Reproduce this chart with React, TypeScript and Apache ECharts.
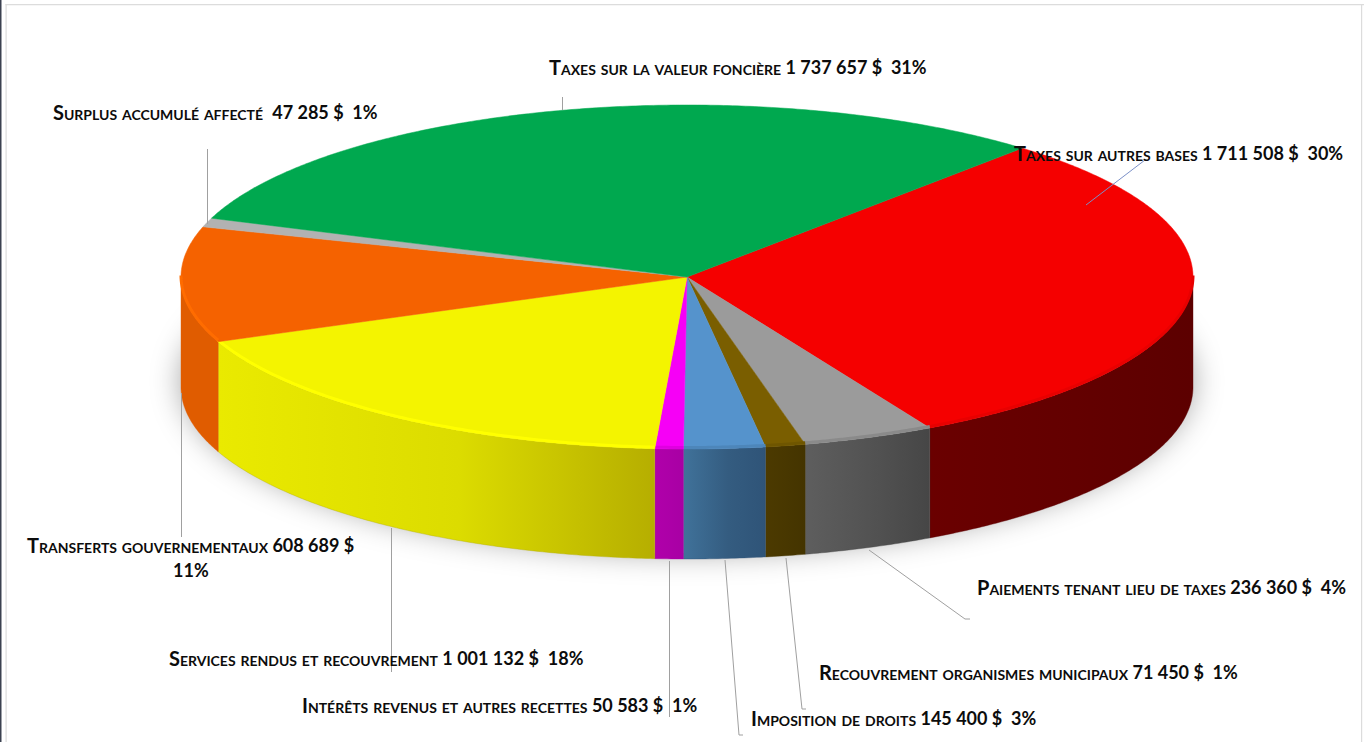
import React, { useEffect, useRef } from "react";
import * as echarts from "echarts";

// Categories and values, in clockwise order from the red slice
const categories = [
  "Taxes sur autres bases",
  "Paiements tenant lieu de taxes",
  "Recouvrement organismes municipaux",
  "Imposition de droits",
  "Intérêts revenus et autres recettes",
  "Services rendus et recouvrement",
  "Transferts gouvernementaux",
  "Surplus accumulé affecté ",
  "Taxes sur la valeur foncière",
];
const values = [1711508, 236360, 71450, 145400, 50583, 1001132, 608689, 47285, 1737657];
const valueLabels = ["1 711 508 $", "236 360 $", "71 450 $", "145 400 $", "50 583 $", "1 001 132 $", "608 689 $", "47 285 $", "1 737 657 $"];
const percents = ["30%", "4%", "1%", "3%", "1%", "18%", "11%", "1%", "31%"];

// Styles
const topColors = ["#f50000", "#9b9b9b", "#7a5e00", "#5593cc", "#f600f6", "#f4f400", "#f56200", "#b2b2b2", "#00a84f"];
const rimColors = ["#e80000", "#8a8a8a", "#6f5600", "#4d86ba", "#e000e0", "#ffff00", "#ff6c00", "#b2b2b2", "#00a84f"];
const sideFrom = ["#6a0000", "#5e5e5e", "#4c3a00", "#40729a", "#b000aa", "#eaea00", "#e05c00", "#888888", "#006030"];
const sideMid = ["#630000", "#525252", "#483700", "#345c80", "#ac00a7", "#dcdc00", "#e05c00", "#888888", "#006030"];
const sideTo = ["#5c0000", "#464646", "#443400", "#2f5478", "#a800a4", "#b6ae00", "#e05c00", "#888888", "#006030"];

// Layout
const CX = 687, CY = 277, RX = 506, RY = 172, DEPTH = 110, START = 41.5;
const labelPos: number[][] = [
  [1014, 153], [977, 587], [819, 672], [751, 718], [302, 705], [169, 658], [27, 545], [53, 112], [549, 67],
];
const leaders: number[][][] = [
  [[1086, 205], [1145, 160]],
  [[869, 550], [965, 619], [970, 619]],
  [[786, 558], [802, 709], [806, 709]],
  [[725, 560], [739, 735], [743, 735]],
  [[669.5, 561], [669.5, 717]],
  [[391.5, 528], [391.5, 672]],
  [[181.5, 393], [181.5, 537]],
  [[207.5, 149], [207.5, 224]],
  [[562.5, 97], [562.5, 110]],
];

const total = values.reduce((a, b) => a + b, 0);
const spans = (() => {
  let cur = START;
  return values.map((v) => {
    const a = cur;
    cur += (v / total) * 360;
    return [a, cur];
  });
})();

const pt = (deg: number, dy = 0): number[] => {
  const t = (deg * Math.PI) / 180;
  return [CX + RX * Math.sin(t), CY - RY * Math.cos(t) + dy];
};
const arc = (a: number, b: number, dy = 0): number[][] => {
  const n = Math.max(2, Math.ceil(Math.abs(b - a) * 2));
  const out: number[][] = [];
  for (let i = 0; i <= n; i++) out.push(pt(a + ((b - a) * i) / n, dy));
  return out;
};

const renderShadow = () => ({
  type: "polygon",
  shape: { points: arc(0, 360, DEPTH - 6) },
  style: { fill: "#ffffff", shadowBlur: 30, shadowColor: "rgba(0,0,0,0.36)", shadowOffsetX: 0, shadowOffsetY: 0 },
  silent: true,
});

const renderSide = (params: any) => {
  const i = params.dataIndex;
  const a = Math.max(spans[i][0], 90);
  const b = Math.min(spans[i][1], 270);
  if (b <= a) return { type: "group", children: [] };
  const top = arc(a, b);
  const bottom = arc(a, b, DEPTH);
  const xs = [top[0][0], top[top.length - 1][0]];
  const fill = {
    type: "linear",
    global: true,
    x: Math.min(...xs),
    y: 0,
    x2: Math.max(...xs),
    y2: 0,
    colorStops: [
      { offset: 0, color: sideFrom[i] },
      { offset: 0.55, color: sideMid[i] },
      { offset: 1, color: sideTo[i] },
    ],
  };
  return {
    type: "group",
    children: [
      {
        type: "polygon",
        shape: { points: [...top, ...bottom.reverse()] },
        style: { fill, stroke: sideTo[i], lineWidth: 0.4 },
        silent: true,
      },
    ],
  };
};

const renderTop = (params: any) => {
  const i = params.dataIndex;
  const [a, b] = spans[i];
  const children: any[] = [
    {
      type: "polygon",
      shape: { points: [[CX, CY], ...arc(a, b)] },
      style: { fill: topColors[i], stroke: topColors[i], lineWidth: 0.5 },
      silent: true,
    },
  ];
  const ra = Math.max(a, 90);
  const rb = Math.min(b, 270);
  if (rb > ra) {
    children.push({
      type: "polyline",
      shape: { points: arc(ra, rb, -1.5) },
      style: { fill: "none", stroke: rimColors[i], lineWidth: 3 },
      silent: true,
    });
  }
  return { type: "group", children };
};

const seriesData = values.map((v, i) => ({ name: categories[i].trim(), value: [v] }));

const rich = {
  n: { font: "small-caps bold 20px Lato", fill: "#0c0c0c" },
  v: { font: "bold 18px Lato", fill: "#0c0c0c" },
};

export default function App() {
  const ref = useRef<HTMLDivElement>(null);
  useEffect(() => {
    document.body.style.margin = "0";
    document.body.style.background = "#fff";
    const chart = echarts.init(ref.current!, undefined, { renderer: "svg" });
    const textEls: any[] = categories.map((c, i) => ({
      type: "text",
      x: labelPos[i][0],
      y: labelPos[i][1],
      z: 100,
      style: {
        text: `{n|${c}} {v|${valueLabels[i]}${i === 6 ? "" : "  " + percents[i]}}`,
        rich,
        font: "bold 18px Lato",
        fill: "#0c0c0c",
        textAlign: "left",
        textVerticalAlign: "middle",
      },
      silent: true,
    }));
    textEls.push({
      type: "text",
      x: 173,
      y: 570,
      z: 100,
      style: { text: percents[6], font: "bold 18px Lato", fill: "#0c0c0c", textAlign: "left", textVerticalAlign: "middle" },
      silent: true,
    });
    const lineEls: any[] = leaders.map((pts, i) => ({
      type: "polyline",
      z: 90,
      shape: { points: pts },
      style: { fill: "none", stroke: i === 0 ? "#7b90c8" : "#a0a0a0", lineWidth: 1 },
      silent: true,
    }));
    const frame: any[] = [
      { type: "rect", shape: { x: 0, y: 0, width: 1.5, height: 742 }, style: { fill: "#3b4150" }, silent: true },
      { type: "rect", shape: { x: 5.5, y: 4, width: 1358.5, height: 1.2 }, style: { fill: "#dcdcdc" }, silent: true },
      { type: "rect", shape: { x: 5.5, y: 4, width: 1.2, height: 738 }, style: { fill: "#dcdcdc" }, silent: true },
      { type: "rect", shape: { x: 1361, y: 4, width: 1.2, height: 738 }, style: { fill: "#dcdcdc" }, silent: true },
    ];
    chart.setOption({
      animation: false,
      backgroundColor: "#ffffff",
      tooltip: { show: false },
      series: [
        { type: "custom", coordinateSystem: "none", silent: true, z: 1, data: [[0]], renderItem: renderShadow },
        { type: "custom", coordinateSystem: "none", silent: true, z: 2, data: seriesData, renderItem: renderSide },
        { type: "custom", coordinateSystem: "none", silent: true, z: 3, data: seriesData, renderItem: renderTop },
      ],
      graphic: { elements: [...frame, ...lineEls, ...textEls] },
    });
    return () => chart.dispose();
  }, []);
  return <div ref={ref} style={{ width: 1364, height: 742 }} />;
}
